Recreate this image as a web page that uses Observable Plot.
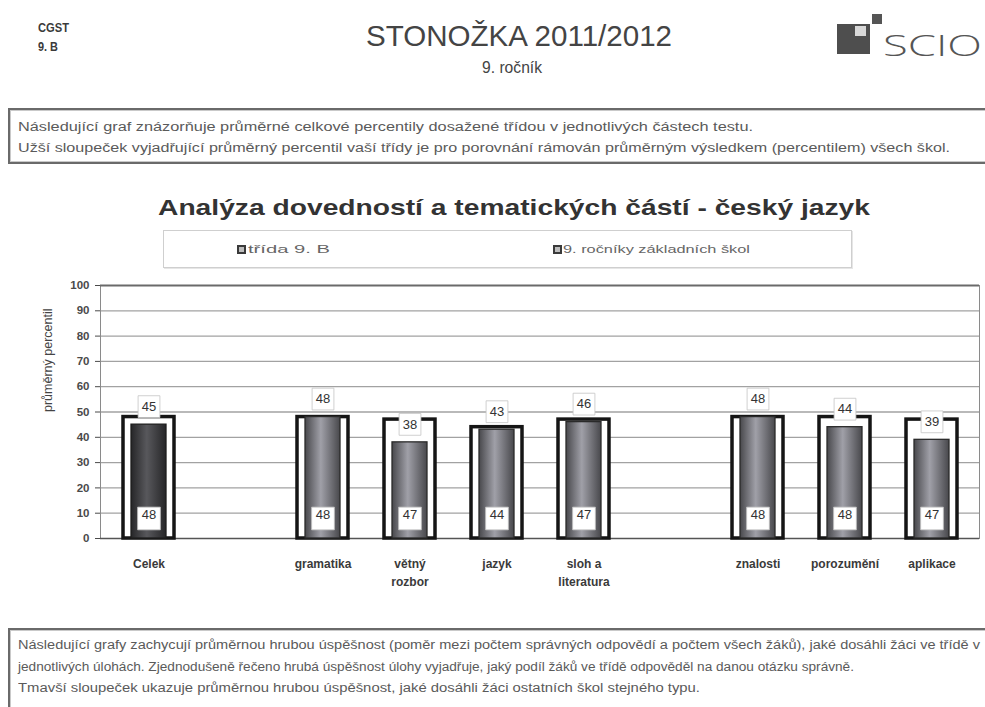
<!DOCTYPE html>
<html>
<head>
<meta charset="utf-8">
<script src="https://cdn.jsdelivr.net/npm/d3@7"></script>
<script src="https://cdn.jsdelivr.net/npm/@observablehq/plot@0.6"></script>
<style>
  html, body { margin: 0; padding: 0; background: #fff; }
  #page { position: relative; width: 985px; height: 707px; overflow: hidden; background: #fff;
          font-family: "Liberation Sans", Arial, sans-serif; color: #333; }
  .t { position: absolute; white-space: nowrap; line-height: 1; transform-origin: left center; }
  .box { position: absolute; border: 2px solid #6a6a6a; box-shadow: inset 0 0 0 1px #c9c9c9; box-sizing: border-box; }
  .sw { position: absolute; width: 9px; height: 9px; box-sizing: border-box; background: #bdbdbd; border: 2.5px solid #3a3a3a; }
  #chart { position: absolute; left: 0; top: 270px; }
</style>
</head>
<body>
<div id="page">
  <div class="t fit" data-w="31" style="left:38px; top:22px; font-size:12px; font-weight:bold; color:#3a3a3a;">CGST</div>
  <div class="t fit" data-w="20" style="left:38px; top:41px; font-size:12px; font-weight:bold; color:#3a3a3a;">9. B</div>
  <div class="t fit" data-w="306" style="left:366px; top:22px; font-size:29px; color:#444;">STONOŽKA 2011/2012</div>
  <div class="t fit" data-w="60" style="left:482px; top:60px; font-size:16px; color:#444;">9. ročník</div>

  <!-- logo -->
  <div style="position:absolute; left:837px; top:24px; width:33px; height:30px; background:#4e4e4e;"></div>
  <div style="position:absolute; left:855px; top:26px; width:11px; height:10px; background:#d8d8d8;"></div>
  <div style="position:absolute; left:872px; top:14px; width:10px; height:10px; background:#555;"></div>
  <div class="t fit" data-w="99" style="left:883px; top:30px; font-size:30px; color:#555; font-family:'Open Sans','Liberation Sans',sans-serif; font-weight:300;">SCIO</div>

  <div class="box" style="left:8px; top:108px; width:985px; height:56px;"></div>
  <div class="t fit" data-w="735" style="left:18px; top:121px; font-size:12px; color:#5a5a5a;">Následující graf znázorňuje průměrné celkové percentily dosažené třídou v jednotlivých částech testu.</div>
  <div class="t fit" data-w="932" style="left:18px; top:142px; font-size:12px; color:#5a5a5a;">Užší sloupeček vyjadřující průměrný percentil vaší třídy je pro porovnání rámován průměrným výsledkem (percentilem) všech škol.</div>

  <div class="t fit" data-w="712" style="left:158px; top:197px; font-size:22px; font-weight:bold; color:#333;">Analýza dovedností a tematických částí - český jazyk</div>

  <div style="position:absolute; left:163px; top:230px; width:689px; height:38px; border:1px solid #cfcfcf; box-sizing:border-box; box-shadow: 1px 1px 0 #e6e6e6;"></div>
  <div class="sw" style="left:237px; top:245px;"></div>
  <div class="t fit" data-w="82" style="left:248px; top:244px; font-size:11px; color:#666;">třída 9. B</div>
  <div class="sw" style="left:553px; top:245px;"></div>
  <div class="t fit" data-w="187" style="left:563px; top:244px; font-size:11px; color:#666;">9. ročníky základních škol</div>

  <div id="chart"></div>

  <div class="box" style="left:8px; top:628px; width:985px; height:100px;"></div>
  <div class="t fit" data-w="962" style="left:18px; top:639px; font-size:12px; color:#5a5a5a;">Následující grafy zachycují průměrnou hrubou úspěšnost (poměr mezi počtem správných odpovědí a počtem všech žáků), jaké dosáhli žáci ve třídě v</div>
  <div class="t fit" data-w="836" style="left:18px; top:661px; font-size:12px; color:#5a5a5a;">jednotlivých úlohách. Zjednodušeně řečeno hrubá úspěšnost úlohy vyjadřuje, jaký podíl žáků ve třídě odpověděl na danou otázku správně.</div>
  <div class="t fit" data-w="682" style="left:18px; top:682px; font-size:12px; color:#5a5a5a;">Tmavší sloupeček ukazuje průměrnou hrubou úspěšnost, jaké dosáhli žáci ostatních škol stejného typu.</div>
</div>

<script>
// ---- data ----
const categories = ["Celek", "gramatika", "větný\nrozbor", "jazyk", "sloh a\nliteratura", "znalosti", "porozumění", "aplikace"];
const classPercentile = [45, 48, 38, 43, 46, 48, 44, 39];     // třída 9. B
const schoolsPercentile = [48, 48, 47, 44, 47, 48, 48, 47];   // 9. ročníky základních škol
const yTicks = [0, 10, 20, 30, 40, 50, 60, 70, 80, 90, 100];
// category slots along x, with two empty slots separating the groups
const xSlots = ["Celek", "gap1", "gramatika", "větný\nrozbor", "jazyk", "sloh a\nliteratura", "gap2", "znalosti", "porozumění", "aplikace"];

const data = categories.map((c, i) => ({
  slot: c, label: c, cls: classPercentile[i], schools: schoolsPercentile[i]
}));

const chart = Plot.plot({
  width: 985,
  height: 340,
  marginLeft: 100,
  marginRight: 6,
  marginTop: 15,
  marginBottom: 72,
  style: { fontFamily: "'Liberation Sans', Arial, sans-serif", background: "transparent", overflow: "visible" },
  x: { domain: xSlots, padding: 0, axis: null },
  y: { domain: [0, 100], axis: null },
  marks: [
    Plot.ruleY(yTicks.filter(t => t > 0 && t < 100), { stroke: "#a2a2a2", strokeWidth: 1.3 }),
    Plot.frame({ stroke: "#8a8a8a", strokeWidth: 1 }),
    Plot.ruleY([100], { stroke: "#6a6a6a", strokeWidth: 2 }),
    Plot.ruleY([0], { stroke: "#555", strokeWidth: 1.5 }),
    Plot.axisY({ ticks: yTicks, tickSize: 5, tickPadding: 6, fontSize: 11.5, fontWeight: "bold", color: "#4a4a4a", label: null }),
    Plot.text(["průměrný percentil"], { frameAnchor: "left", dx: -53, rotate: -90, fontSize: 12.5, fill: "#444" }),
    // all schools: outer frame bar
    Plot.barY(data, { x: "slot", y: "schools", fill: "white", stroke: "#151515", strokeWidth: 3.5, insetLeft: 18, insetRight: 18 }),
    // class: inner bar
    Plot.barY(data.filter(d => d.slot === "Celek"), { x: "slot", y: "cls", fill: "url(#gDark)", stroke: "#1e1e1e", strokeWidth: 1.3, insetLeft: 26, insetRight: 26 }),
    Plot.barY(data.filter(d => d.slot !== "Celek"), { x: "slot", y: "cls", fill: "url(#gMid)", stroke: "#2a2a2a", strokeWidth: 1.3, insetLeft: 26, insetRight: 26 }),
    // class value labels (above the inner bar)
    Plot.dot(data, { x: "slot", y: "cls", dy: -18, symbol: "square", r: 12.3, fill: "white", stroke: "#c4c4c4", strokeWidth: 0.8 }),
    Plot.text(data, { x: "slot", y: "cls", dy: -18, text: d => String(d.cls), fontSize: 13, fill: "#333" }),
    // all-schools value labels (bottom)
    Plot.dot(data, { x: "slot", frameAnchor: "bottom", dy: -20, symbol: "square", r: 12.8, fill: "white", stroke: "#c4c4c4", strokeWidth: 0.8 }),
    Plot.text(data, { x: "slot", frameAnchor: "bottom", dy: -20, text: d => String(d.schools), fontSize: 13, fill: "#333" }),
    // category labels
    Plot.text(data, { x: "slot", text: "label", frameAnchor: "bottom", dy: 17, lineAnchor: "top", lineHeight: 1.5, fontSize: 12, fontWeight: "bold", fill: "#3a3a3a" })
  ]
});

// gradients for the cylinder-like bars
const defs = d3.select(chart).insert("defs", ":first-child");
function grad(id, edge, mid) {
  const g = defs.append("linearGradient").attr("id", id).attr("x1", "0").attr("x2", "1").attr("y1", "0").attr("y2", "0");
  g.append("stop").attr("offset", "0%").attr("stop-color", edge);
  g.append("stop").attr("offset", "45%").attr("stop-color", mid);
  g.append("stop").attr("offset", "100%").attr("stop-color", edge);
}
grad("gDark", "#262628", "#58585c");
grad("gMid", "#48484c", "#a0a0a8");

document.getElementById("chart").appendChild(chart);

// fit header/text widths to the reference
document.querySelectorAll(".fit").forEach(el => {
  const w = +el.dataset.w;
  const cur = el.getBoundingClientRect().width;
  if (cur > 0) el.style.transform = `scaleX(${w / cur})`;
});
</script>
</body>
</html>
